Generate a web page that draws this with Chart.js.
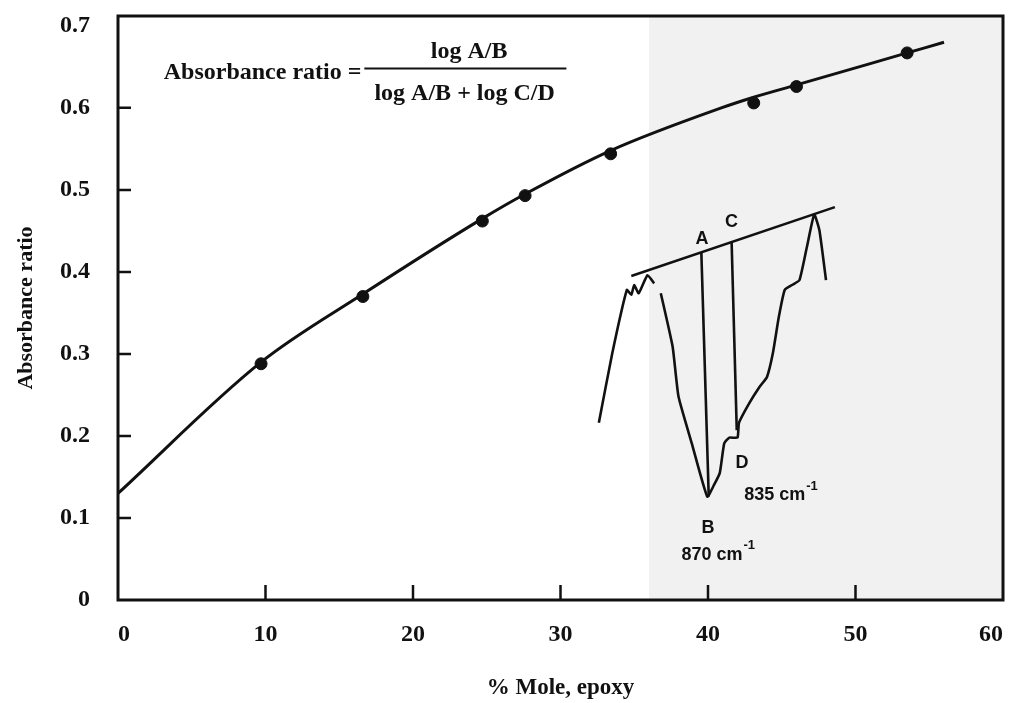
<!DOCTYPE html>
<html>
<head>
<meta charset="utf-8">
<script src="https://cdn.jsdelivr.net/npm/chart.js@4/dist/chart.umd.min.js"></script>
<style>
html, body { margin: 0; padding: 0; background: #fff; }
#wrap { width: 1013px; height: 703px; }
</style>
</head>
<body>
<div id="wrap"><canvas id="myChart" width="1013" height="703"></canvas></div>
<script>
// measured points
var moleEpoxy = [9.7, 16.6, 24.7, 27.6, 33.4, 43.1, 46.0, 53.5];
var absRatio = [0.288, 0.370, 0.462, 0.493, 0.544, 0.606, 0.626, 0.667];

// hand-drawn fit curve
var curveX = [0, 9.7, 16.6, 24.7, 27.6, 33.4, 40.9, 43.1, 46.0, 53.5, 56.0];
var curveY = [0.130, 0.290, 0.373, 0.465, 0.495, 0.548, 0.600, 0.613, 0.628, 0.667, 0.680];

// inset IR spectrum sketch (drawn in the chart's own units)
var specLeftX = [32.6, 33.5, 34.5, 34.8, 35.0, 35.3, 35.9, 36.35];
var specLeftY = [0.216, 0.300, 0.378, 0.372, 0.384, 0.374, 0.396, 0.386];
var specRightX = [36.8, 37.6, 38.0, 38.9, 39.95, 40.4, 40.8, 41.1, 41.45, 42.0, 42.1, 42.8, 43.5, 44.0, 44.4, 44.8, 45.2, 45.7, 46.2, 46.7, 47.2, 47.55, 48.0];
var specRightY = [0.374, 0.309, 0.248, 0.191, 0.126, 0.140, 0.155, 0.191, 0.198, 0.198, 0.216, 0.240, 0.260, 0.272, 0.301, 0.345, 0.378, 0.384, 0.390, 0.430, 0.470, 0.451, 0.390];
var baseX = [34.8, 48.6];
var baseY = [0.395, 0.479];
var lineABX = [39.55, 40.05];
var lineABY = [0.423, 0.126];
var lineCDX = [41.6, 41.95];
var lineCDY = [0.437, 0.207];

var xTicks = [0, 10, 20, 30, 40, 50, 60];
var yTicks = [0, 0.1, 0.2, 0.3, 0.4, 0.5, 0.6, 0.7];

function pts(xs, ys) {
    return xs.map(function(x, i) { return { x: x, y: ys[i] }; });
}

var serif = '"Liberation Serif", "Times New Roman", serif';
var sans = '"Liberation Sans", Arial, sans-serif';

var sketch = function(xs, ys, tension) {
    return {
        type: 'line',
        data: pts(xs, ys),
        borderColor: '#111',
        borderWidth: 2.6,
        pointRadius: 0,
        tension: tension,
        fill: false
    };
};

// light grey scan tone on the right
var bgPlugin = {
    id: 'bg',
    beforeDatasetsDraw: function(chart) {
        var c = chart.ctx, a = chart.chartArea, xs = chart.scales.x;
        var x0 = xs.getPixelForValue(36);
        c.save();
        c.fillStyle = '#f1f1f1';
        c.fillRect(x0, a.top, a.right - x0, a.bottom - a.top);
        c.restore();
    }
};

// frame, inward ticks and text notes
var notesPlugin = {
    id: 'notes',
    afterDatasetsDraw: function(chart) {
        var c = chart.ctx, a = chart.chartArea;
        var xs = chart.scales.x, ys = chart.scales.y;
        c.save();
        c.strokeStyle = '#111';
        c.lineWidth = 3;
        c.strokeRect(a.left, a.top, a.right - a.left, a.bottom - a.top);

        c.lineWidth = 2.5;
        c.beginPath();
        for (var i = 1; i < yTicks.length - 1; i++) {
            var py = ys.getPixelForValue(yTicks[i]);
            c.moveTo(a.left, py);
            c.lineTo(a.left + 13, py);
        }
        for (var j = 1; j < xTicks.length - 1; j++) {
            var px = xs.getPixelForValue(xTicks[j]);
            c.moveTo(px, a.bottom);
            c.lineTo(px, a.bottom - 15);
        }
        c.stroke();

        // formula
        c.fillStyle = '#111';
        c.font = 'bold 24px ' + serif;
        c.textBaseline = 'middle';
        c.textAlign = 'right';
        c.fillText('Absorbance ratio =', xs.getPixelForValue(16.5), ys.getPixelForValue(0.643));
        c.textAlign = 'center';
        c.fillText('log A/B', xs.getPixelForValue(23.8), ys.getPixelForValue(0.668));
        c.fillText('log A/B + log C/D', xs.getPixelForValue(23.5), ys.getPixelForValue(0.617));
        c.lineWidth = 2;
        c.beginPath();
        c.moveTo(xs.getPixelForValue(16.7), ys.getPixelForValue(0.648));
        c.lineTo(xs.getPixelForValue(30.4), ys.getPixelForValue(0.648));
        c.stroke();

        // spectrum labels
        c.font = 'bold 18px ' + sans;
        c.fillText('A', xs.getPixelForValue(39.6), ys.getPixelForValue(0.440));
        c.fillText('C', xs.getPixelForValue(41.6), ys.getPixelForValue(0.461));
        c.fillText('D', xs.getPixelForValue(42.3), ys.getPixelForValue(0.167));
        c.fillText('B', xs.getPixelForValue(40.0), ys.getPixelForValue(0.088));
        var waves = [['835 cm', 42.45, 0.128], ['870 cm', 38.2, 0.055]];
        waves.forEach(function(w) {
            var x0 = xs.getPixelForValue(w[1]), y0 = ys.getPixelForValue(w[2]);
            c.font = 'bold 18px ' + sans;
            c.textAlign = 'left';
            c.fillText(w[0], x0, y0);
            var wd = c.measureText(w[0]).width;
            c.font = 'bold 13px ' + sans;
            c.fillText('-1', x0 + wd + 1, y0 - 9);
        });
        c.restore();
    }
};

var ctx = document.getElementById('myChart').getContext('2d');
var myChart = new Chart(ctx, {
    data: {
        datasets: [
            {
                type: 'line',
                data: pts(curveX, curveY),
                borderColor: '#111',
                borderWidth: 3,
                pointRadius: 0,
                cubicInterpolationMode: 'monotone',
                fill: false
            },
            {
                type: 'scatter',
                data: pts(moleEpoxy, absRatio),
                pointRadius: 6,
                pointBackgroundColor: '#111',
                pointBorderColor: '#111',
                showLine: false
            },
            sketch(specLeftX, specLeftY, 0.15),
            sketch(specRightX, specRightY, 0.15),
            sketch(baseX, baseY, 0),
            sketch(lineABX, lineABY, 0),
            sketch(lineCDX, lineCDY, 0)
        ]
    },
    options: {
        responsive: false,
        animation: false,
        layout: { padding: { left: 0, top: 16, right: 10, bottom: 0 } },
        plugins: {
            legend: { display: false },
            tooltip: { enabled: false }
        },
        scales: {
            x: {
                type: 'linear',
                min: 0,
                max: 60,
                grid: { display: false, drawTicks: false },
                border: { display: false },
                afterFit: function(s) {
                    s.height = 103;
                    s.paddingLeft = 0;
                    s.paddingRight = 0;
                },
                ticks: {
                    stepSize: 10,
                    padding: 20,
                    align: 'inner',
                    color: '#111',
                    font: { family: serif, size: 24, weight: 'bold' }
                },
                title: {
                    display: true,
                    text: '% Mole, epoxy',
                    color: '#111',
                    padding: { top: 0, bottom: 1 },
                    font: { family: serif, size: 23, weight: 'bold' }
                }
            },
            y: {
                min: 0,
                max: 0.712,
                grid: { display: false, drawTicks: false },
                border: { display: false },
                afterFit: function(s) {
                    s.width = 118;
                    s.paddingTop = 0;
                    s.paddingBottom = 0;
                },
                ticks: {
                    stepSize: 0.1,
                    includeBounds: false,
                    padding: 28,
                    color: '#111',
                    font: { family: serif, size: 24, weight: 'bold' },
                    callback: function(v) { return v === 0 ? '0' : v.toFixed(1); }
                },
                title: {
                    display: true,
                    text: 'Absorbance ratio',
                    color: '#111',
                    padding: { top: 13, bottom: 0 },
                    font: { family: serif, size: 22, weight: 'bold' }
                }
            }
        }
    },
    plugins: [bgPlugin, notesPlugin]
});
</script>
</body>
</html>
